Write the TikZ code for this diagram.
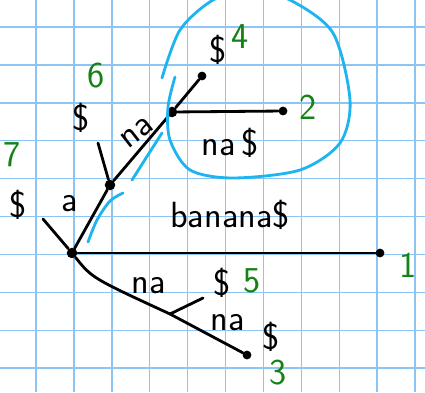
\documentclass[tikz,border=0pt]{standalone}
\usepackage{tikz}
\usetikzlibrary{positioning}
\definecolor{gridblue}{RGB}{140,196,244}
\definecolor{penblue}{RGB}{30,180,240}
\definecolor{pengreen}{RGB}{20,130,20}
\tikzset{
  gridline/.style={gridblue, line width=0.8pt},
  edge/.style={black, line width=1.6pt, line cap=round},
  leaf/.style={circle, fill=black, inner sep=0pt, minimum size=5pt},
  inner/.style={circle, fill=black, inner sep=0pt, minimum size=6pt},
  lab/.style={font=\sffamily\huge, inner sep=1pt},
  num/.style={font=\sffamily\huge, text=pengreen, inner sep=1pt},
  marker/.style={penblue, line width=1.6pt, line cap=round},
}
\begin{document}
\begin{tikzpicture}[x=0.02cm, y=-0.02cm]
    \useasboundingbox (0,0) rectangle (425,392);
    \fill[white] (0,0) rectangle (425,392);
    \begin{scope}
    \clip (0,0) rectangle (425,392);
    % squared paper
    \foreach \k in {0,...,10} \draw[gridline] ({36+37.9*\k},0) -- ({36+37.9*\k},392);
    \foreach \k in {0,...,9} \draw[gridline] (0,{27+37.9*\k}) -- (425,{27+37.9*\k});

    % tree nodes
    \node[inner] (root) at (72,253) {};
    \node[inner] (a) at (110,185) {};
    \node[inner] (ana) at (172,112) {};
    \node[leaf] (l1) at (380,253) {};
    \node[leaf] (l2) at (283,111) {};
    \node[leaf] (l3) at (247,355) {};
    \node[leaf] (l4) at (202,76) {};
    \coordinate (na) at (170,314);
    \coordinate (l5) at (203,298);
    \coordinate (l6) at (98,143);
    \coordinate (l7) at (43,219);

    % edges
    \draw[edge] (root) -- (l1);
    \draw[edge] (root) -- (a);
    \draw[edge] (a) -- (ana);
    \draw[edge] (ana) -- (l4);
    \draw[edge] (ana) -- (l2);
    \draw[edge] (a) -- (l6);
    \draw[edge] (root) -- (l7);
    \draw[edge] (root) .. controls (92,278) .. (na);
    \draw[edge] (na) -- (l3);
    \draw[edge] (na) -- (l5);

    % edge labels
    \node[lab] (tbanana) at (230,215) {banana\$};
    \node[lab] (ta) at (70,204) {a};
    \node[lab, rotate=38, inner sep=0pt] (tna1) at (137,133) {na};
    \node[lab] (tna2) at (230,143) {na\,\$};
    \node[lab] (tna3) at (149,286) {na};
    \node[lab] (tna4) at (228,323) {na};
    \node[lab] (t4) at (218,50) {\$};
    \node[lab] (t5) at (222,283) {\$};
    \node[lab] (t3) at (271,337) {\$};
    \node[lab] (t6) at (81,118) {\$};
    \node[lab] (t7) at (18,205) {\$};

    % leaf numbers
    \node[num] (n1) at (408,265) {1};
    \node[num] (n2) at (308,107) {2};
    \node[num] (n3) at (278,373) {3};
    \node[num] (n4) at (240,37) {4};
    \node[num] (n5) at (252,281) {5};
    \node[num] (n6) at (96,76) {6};
    \node[num] (n7) at (12,155) {7};

    % blue marks
    \draw[marker] plot[smooth] coordinates {(162,78) (180,30) (213,0) (250,-10) (290,0) (333,33) (350,100) (340,143) (300,170) (233,178) (190,170) (170,140) (168,107) (175,77)};
    \draw[marker] plot[smooth] coordinates {(132,180) (146,158) (162,133)};
    \draw[marker] plot[smooth] coordinates {(123,193) (110,201) (97,220) (88,242)};
    \end{scope}
\end{tikzpicture}
\end{document}
